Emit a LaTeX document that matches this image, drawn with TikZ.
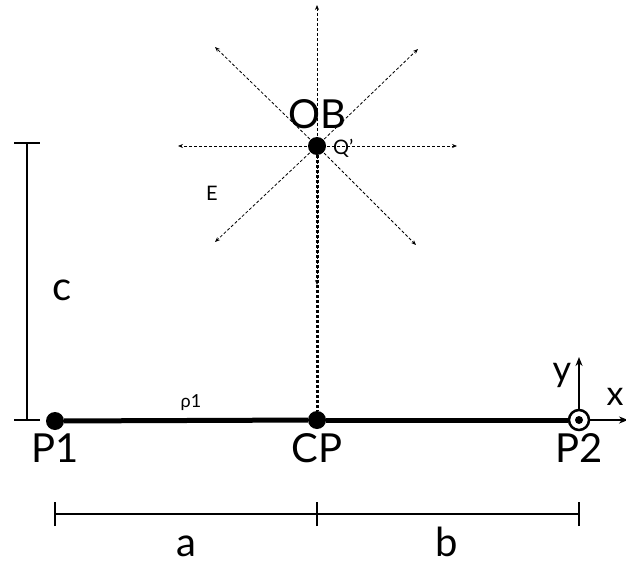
\documentclass[tikz,border=0pt]{standalone}
\usepackage{fontspec}
\setmainfont{Lato}
\usetikzlibrary{arrows.meta}
\begin{document}
\begin{tikzpicture}[x=1pt,y=-1pt,
  dotnode/.style={circle,fill=black,inner sep=0pt,minimum size=18pt},
  ray/.style={densely dashed,line width=0.8pt,-{Stealth[length=5pt,width=4pt]}},
  big/.style={font=\fontsize{40}{44}\selectfont,inner sep=0pt},
  small/.style={font=\fontsize{20}{22}\selectfont,inner sep=0pt},
  dim/.style={line width=2.2pt},
  axis/.style={line width=2pt,-{Stealth[length=9pt,width=7pt]}}]
\useasboundingbox (0,0) rectangle (626,564);
% nodes
\node[dotnode] (OB) at (317,146) {};
\node[dotnode] (P1) at (55,421) {};
\node[dotnode] (CP) at (317,420) {};
\node[circle,draw,line width=2.5pt,fill=white,inner sep=0pt,minimum size=20pt] (P2) at (579,420) {};
\node[circle,fill=black,inner sep=0pt,minimum size=8pt] (P2c) at (579,420) {};
% rays
\coordinate (rU) at (317,5);
\coordinate (rD) at (317,285);
\coordinate (rL) at (178,146);
\coordinate (rR) at (457,146);
\coordinate (rUL) at (215,47);
\coordinate (rUR) at (418,49);
\coordinate (rDL) at (215,242);
\coordinate (rDR) at (416,245);
\foreach \t in {rU,rD,rL,rR,rUL,rUR,rDL,rDR}
  \draw[ray] (OB.center) -- (\t);
% dotted vertical
\draw[line width=3pt,dash pattern=on 2.5pt off 2.5pt] (OB) -- (CP);
% main rod
\draw[line width=5pt] (P1) -- (CP);
\draw[line width=5pt] (CP) -- (P2);
% axes
\coordinate (ya) at (579,357);
\coordinate (xa) at (628,420);
\draw[axis] (P2.north) -- (ya);
\draw[axis] (P2.east) -- (xa);
% labels
\node[big] (tOB) at (317,114) {OB};
\node[small,anchor=west] (tQ) at (333,148) {Q'};
\node[small] (tE) at (212,193) {E};
\node[small,font=\fontsize{18}{20}\selectfont] (trho) at (191,403) {ρ1};
\node[big,anchor=base] (tP1) at (55,462) {P1};
\node[big,anchor=base] (tCP) at (317,462) {CP};
\node[big,anchor=base] (tP2) at (579,462) {P2};
\node[big,font=\fontsize{36}{40}\selectfont] (ty) at (562,375) {y};
\node[big,font=\fontsize{34}{38}\selectfont] (tx) at (615,397) {x};
\node[big] (tc) at (62,290) {c};
\node[big,anchor=base] (ta) at (186,556) {a};
\node[big,anchor=base] (tb) at (447,556) {b};
% c dimension
\coordinate (cT) at (27,143);
\coordinate (cB) at (27,420);
\draw[dim] (cT) -- (cB);
\draw[dim] ([xshift=-13pt]cT) -- ([xshift=13pt]cT);
\draw[dim] ([xshift=-13pt]cB) -- ([xshift=13pt]cB);
% bottom dimension
\coordinate (d1) at (55,514);
\coordinate (d2) at (317,514);
\coordinate (d3) at (579,514);
\draw[dim] (d1) -- (d2);
\draw[dim] (d2) -- (d3);
\foreach \d in {d1,d2,d3}
  \draw[dim] ([yshift=-12pt]\d) -- ([yshift=12pt]\d);
\end{tikzpicture}
\end{document}
